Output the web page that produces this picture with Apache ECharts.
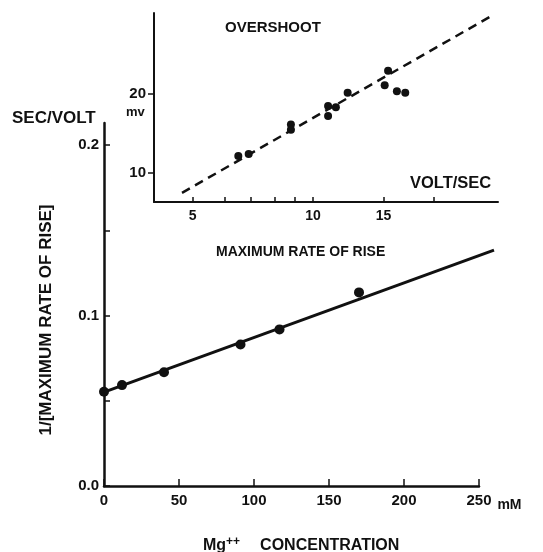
<!DOCTYPE html>
<html>
<head>
<meta charset="utf-8">
<script src="https://cdn.jsdelivr.net/npm/echarts@6/dist/echarts.min.js"></script>
<style>
  html, body { margin: 0; padding: 0; background: #fff; }
  #chart { width: 543px; height: 552px; }
</style>
</head>
<body>
<div id="chart"></div>
<script>
// main plot: 1/[max rate of rise] against Mg++ concentration
const mgConc = [0, 12, 40, 91, 117, 170];
const invRate = [0.0553, 0.0592, 0.0667, 0.083, 0.0919, 0.1136];
const fitConc = [0, 260];
const fitInvRate = [0.0551, 0.1384];
const mainYTicks = [0, 0.05, 0.1, 0.15, 0.2];
const mainYLabels = [0, 0.1, 0.2];

// inset: overshoot against max rate of rise (log-log)
const rateOfRise = [6.5, 6.9, 8.8, 8.8, 10.9, 10.9, 11.4, 12.2, 15.1, 15.4, 16.2, 17.0];
const overshoot = [11.6, 11.8, 15.3, 14.6, 18.0, 16.5, 17.8, 20.2, 21.6, 24.5, 20.5, 20.2];
const dashRate = [4.7, 28.2];
const dashOvershoot = [8.4, 40.0];
const insetXTicks = [5, 6, 7, 8, 9, 10, 15, 20];
const insetXLabels = [5, 10, 15];
const insetYTicks = [10, 20];

const ink = '#111';
const font = '"Liberation Sans", Arial, sans-serif';

function words(text, x, y, size) {
  return {
    type: 'text', x: x, y: y,
    style: { text: text, fill: ink, font: 'bold ' + size + 'px ' + font,
             align: 'left', verticalAlign: 'middle' }
  };
}

const hidden = { show: false };

const chart = echarts.init(document.getElementById('chart'));

const option = {
  animation: false,
  grid: [
    { left: 104, top: 123, width: 375, height: 363 },
    { left: 154, top: 13, width: 344, height: 189 },
    // same frame as the main plot, widened to 260 mM so the fit line runs past the axis end
    { left: 104, top: 123, width: 390, height: 363 }
  ],
  xAxis: [
    {
      gridIndex: 0, type: 'value', min: 0, max: 250, interval: 50,
      axisLine: { lineStyle: { color: ink, width: 2.5 } },
      axisTick: { inside: true, length: 7, lineStyle: { color: ink, width: 1.5 } },
      axisLabel: { color: ink, fontFamily: font, fontWeight: 'bold', fontSize: 15, margin: 7 },
      splitLine: { show: false },
      name: 'mM', nameLocation: 'end', nameGap: 9,
      nameTextStyle: { color: ink, fontFamily: font, fontWeight: 'bold', fontSize: 14,
                       verticalAlign: 'top', padding: [12, 0, 0, 0] }
    },
    {
      gridIndex: 1, type: 'log', min: 4, max: 29,
      axisLine: { lineStyle: { color: ink, width: 2 } },
      axisTick: { inside: true, length: 5, customValues: insetXTicks,
                  lineStyle: { color: ink, width: 1.5 } },
      axisLabel: { customValues: insetXLabels, color: ink, fontFamily: font,
                   fontWeight: 'bold', fontSize: 14, margin: 7 },
      splitLine: { show: false }, minorTick: { show: false }
    },
    {
      gridIndex: 2, type: 'value', min: 0, max: 260,
      axisLine: hidden, axisTick: hidden, axisLabel: hidden, splitLine: hidden
    }
  ],
  yAxis: [
    {
      gridIndex: 0, type: 'value', min: 0, max: 0.213,
      axisLine: { lineStyle: { color: ink, width: 2.5 } },
      axisTick: { inside: true, length: 6, customValues: mainYTicks,
                  lineStyle: { color: ink, width: 1.5 } },
      axisLabel: { customValues: mainYLabels, formatter: v => v.toFixed(1),
                   color: ink, fontFamily: font, fontWeight: 'bold', fontSize: 15, margin: 5 },
      splitLine: { show: false }
    },
    {
      gridIndex: 1, type: 'log', min: 7.75, max: 40.7,
      axisLine: { lineStyle: { color: ink, width: 2 } },
      axisTick: { inside: false, length: 6, customValues: insetYTicks,
                  lineStyle: { color: ink, width: 1.5 } },
      axisLabel: { customValues: insetYTicks, color: ink, fontFamily: font,
                   fontWeight: 'bold', fontSize: 15, margin: 8 },
      splitLine: { show: false }, minorTick: { show: false }
    },
    {
      gridIndex: 2, type: 'value', min: 0, max: 0.213,
      axisLine: hidden, axisTick: hidden, axisLabel: hidden, splitLine: hidden
    }
  ],
  series: [
    {
      type: 'line', xAxisIndex: 2, yAxisIndex: 2,
      data: fitConc.map((c, i) => [c, fitInvRate[i]]),
      symbol: 'none', lineStyle: { color: ink, width: 3 }
    },
    {
      type: 'scatter', xAxisIndex: 0, yAxisIndex: 0,
      data: mgConc.map((c, i) => [c, invRate[i]]),
      symbolSize: 10, itemStyle: { color: ink, opacity: 1 }
    },
    {
      type: 'line', xAxisIndex: 1, yAxisIndex: 1,
      data: dashRate.map((r, i) => [r, dashOvershoot[i]]),
      symbol: 'none', lineStyle: { color: ink, width: 2.5, type: [9, 6] }
    },
    {
      type: 'scatter', xAxisIndex: 1, yAxisIndex: 1,
      data: rateOfRise.map((r, i) => [r, overshoot[i]]),
      symbolSize: 8, itemStyle: { color: ink, opacity: 1 }
    }
  ],
  graphic: [
    words('SEC/VOLT', 12, 118, 17),
    {
      type: 'text', x: 46, y: 320, rotation: Math.PI / 2,
      style: { text: '1/[MAXIMUM RATE OF RISE]', fill: ink, font: 'bold 17px ' + font,
               align: 'center', verticalAlign: 'middle' }
    },
    words('MAXIMUM RATE OF RISE', 216, 252, 14),
    words('OVERSHOOT', 225, 28, 15),
    words('VOLT/SEC', 410, 183, 16.5),
    words('mv', 126, 112, 13),
    {
      type: 'text', x: 203, y: 546,
      style: {
        text: '{a|Mg}{s|++}      {a|CONCENTRATION}',
        align: 'left', verticalAlign: 'middle',
        rich: {
          a: { fill: ink, font: 'bold 16px ' + font },
          s: { fill: ink, font: 'bold 12px ' + font, padding: [0, 0, 9, 0] }
        }
      }
    }
  ]
};

chart.setOption(option);
</script>
</body>
</html>
